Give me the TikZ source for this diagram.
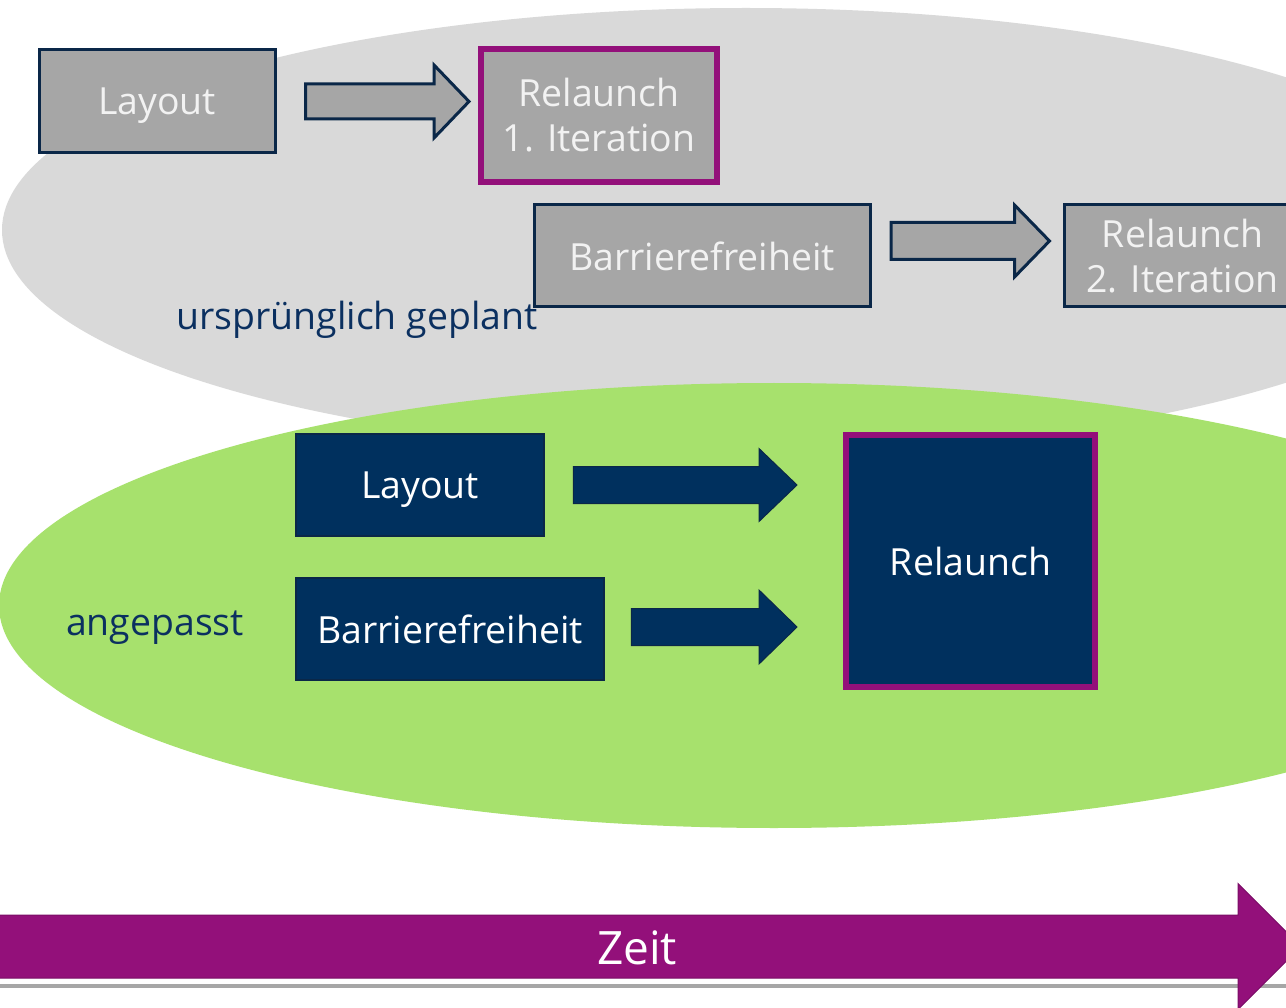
\documentclass[tikz,border=0pt]{standalone}
\usepackage{fontspec}
\setmainfont{Open Sans}
\usetikzlibrary{calc}
\definecolor{navy}{HTML}{00305E}
\definecolor{navyline}{HTML}{0A2748}
\definecolor{navytext}{HTML}{0B3060}
\definecolor{boxgray}{HTML}{A6A6A6}
\definecolor{lightgray}{HTML}{D9D9D9}
\definecolor{lgreen}{HTML}{A7E16D}
\definecolor{purp}{HTML}{93107A}
\definecolor{purpline}{HTML}{7A0E66}
\newcommand\blockarrow[6]{\path let \p1=(#2), \p2=(#3) in [#1]
  (\x1,{\y1+#4}) -- ({\x2-#6},{\y1+#4}) -- ({\x2-#6},{\y1+#5}) -- (\x2,\y1)
  -- ({\x2-#6},{\y1-#5}) -- ({\x2-#6},{\y1-#4}) -- (\x1,{\y1-#4}) -- cycle;}
\tikzset{
  bigfont/.style={font=\fontsize{37.4}{45}\selectfont},
  graybox/.style={bigfont, draw=navyline, line width=3pt, fill=boxgray, text=white!95!black, inner sep=0pt, align=center},
  navybox/.style={bigfont, draw=navyline, line width=2.5pt, fill=navy, text=white, inner sep=0pt, align=center},
  purpbox/.style={line width=6pt, draw=purp},
  grayarrow/.style={draw=navyline, line width=3pt, fill=boxgray, line join=miter},
  navyarrow/.style={draw=navyline, line width=1pt, fill=navy},
  zeitarrow/.style={draw=purpline, line width=1pt, fill=purp},
  label/.style={bigfont, text=navytext, inner sep=0pt, anchor=base},
}
\begin{document}
\begin{tikzpicture}[x=1pt,y=-1pt]
\useasboundingbox (0,0) rectangle (1286,1008);
\begin{scope}
\clip (0,0) rectangle (1286,1008);
\fill[white] (0,0) rectangle (1286,1008);
% ellipses
\fill[lightgray] (746,230) ellipse [x radius=744, y radius=222];
\fill[lgreen] (774,605.5) ellipse [x radius=775, y radius=222.5];
% upper row
\node[graybox, text depth=0pt, minimum width=236pt, minimum height=103pt] (lay1) at (157,101.5) {Layout};
\node[graybox, purpbox, minimum width=236pt, minimum height=133pt] (rel1) at (599,115.5) {Relaunch\\1. Iteration};
\node[graybox, minimum width=336pt, minimum height=102pt] (bar1) at (702,256) {Barrierefreiheit};
\node[graybox, minimum width=236pt, minimum height=102pt] (rel2) at (1182.5,256) {Relaunch\\2. Iteration};
\node[label] (ursp) at (357,330) {ursprünglich geplant};
\blockarrow{grayarrow}{$(lay1.east)+(29,0)$}{$(rel1.west)+(-9,0)$}{17.5pt}{36.5pt}{35pt}
\blockarrow{grayarrow}{$(bar1.east)+(19.5,-15)$}{$(rel2.west)+(-13.5,0)$}{18.5pt}{36pt}{35pt}
% lower row
\node[navybox, text depth=0pt, minimum width=248pt, minimum height=102pt] (lay2) at (420,485) {Layout};
\node[navybox, minimum width=308pt, minimum height=102pt] (bar2) at (450,629) {Barrierefreiheit};
\node[navybox, purpbox, minimum width=249pt, minimum height=252pt] (rel3) at (970.5,561) {Relaunch};
\node[label] (angep) at (155,635) {angepasst};
\blockarrow{navyarrow}{$(lay2.east)+(28,0)$}{$(rel3.west)+(-46,0)$}{18.5pt}{36.5pt}{38pt}
\blockarrow{navyarrow}{$(bar2.east)+(26,-2)$}{$(rel3.west)+(-46,0)$}{18.5pt}{37pt}{38pt}
% time axis
\coordinate (zs) at (-2,946.5);
\coordinate (zt) at (1301,946.5);
\coordinate (gl) at (0,985.5);
\coordinate (gr) at (1286,985.5);
\draw[boxgray, line width=4pt] (gl) -- (gr);
\blockarrow{zeitarrow}{zs}{zt}{31.5pt}{63pt}{63pt}
\node[font=\fontsize{46}{50}\selectfont, text=white, anchor=base, inner sep=0pt] (zeit) at (637,964) {Zeit};
\end{scope}
\end{tikzpicture}
\end{document}
